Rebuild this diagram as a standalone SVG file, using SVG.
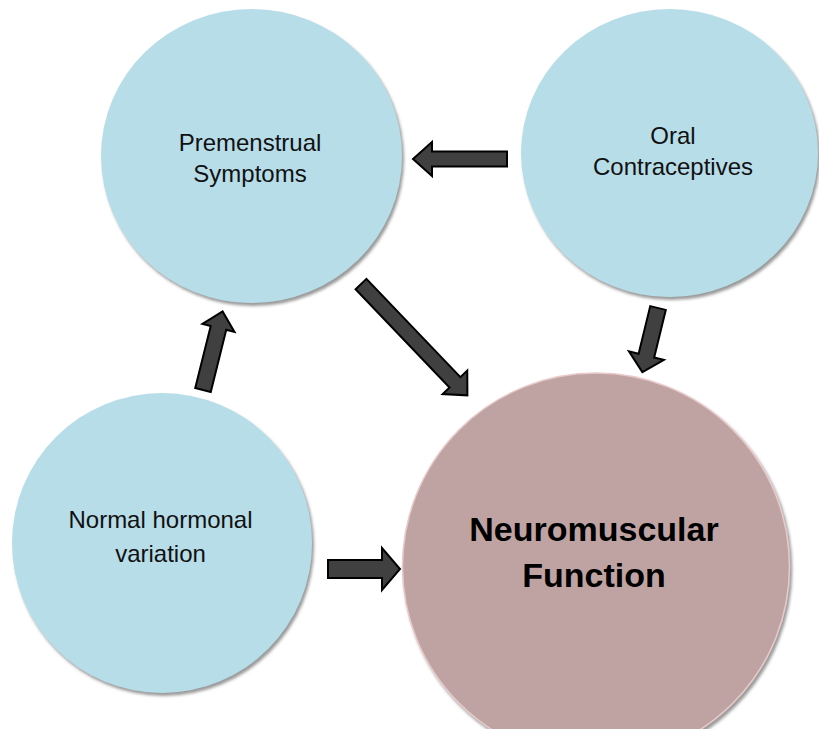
<svg xmlns="http://www.w3.org/2000/svg" width="819" height="729" viewBox="0 0 819 729">
<defs>
<filter id="sh" x="-10%" y="-10%" width="125%" height="125%">
<feDropShadow dx="2" dy="3" stdDeviation="1.5" flood-color="#808080" flood-opacity="0.8"/>
</filter>
<style>
.blue{fill:#B7DDE8;filter:url(#sh);}
.main{fill:#BFA3A3;stroke:#E9CACA;stroke-width:1.5;filter:url(#sh);}
.lbl{font-family:"Liberation Sans",Arial,sans-serif;font-size:24px;fill:#111;text-anchor:middle;}
.big{font-family:"Liberation Sans",Arial,sans-serif;font-size:34px;font-weight:bold;fill:#000;text-anchor:middle;}
.arr{fill:#404040;stroke:#000;stroke-width:2;stroke-linejoin:miter;}
</style>
</defs>
<rect width="819" height="729" fill="#fff"/>
<g id="premenstrual">
<ellipse class="blue" cx="251.5" cy="156" rx="150.5" ry="147"/>
<text class="lbl" x="250" y="151">Premenstrual</text>
<text class="lbl" x="250" y="182">Symptoms</text>
</g>
<g id="oral">
<ellipse class="blue" cx="669.5" cy="153" rx="148.5" ry="144"/>
<text class="lbl" x="673" y="144">Oral</text>
<text class="lbl" x="673" y="175">Contraceptives</text>
</g>
<g id="normal">
<ellipse class="blue" cx="162" cy="543" rx="150" ry="150"/>
<text class="lbl" x="160.5" y="528">Normal hormonal</text>
<text class="lbl" x="160.5" y="562">variation</text>
</g>
<g id="neuromuscular">
<ellipse class="main" cx="596" cy="566.5" rx="193.5" ry="193.5"/>
<text class="big" x="594" y="541">Neuromuscular</text>
<text class="big" x="594" y="587">Function</text>
</g>
<g id="connectors">
<polygon class="arr" transform="translate(507,159) rotate(180)" points="0,-7.5 75,-7.5 75,-17 94,0 75,17 75,7.5 0,7.5"/>
<polygon class="arr" transform="translate(361,284) rotate(46.3)" points="0,-7.5 136,-7.5 136,-17 154,0 136,17 136,7.5 0,7.5"/>
<polygon class="arr" transform="translate(658,308) rotate(103.7)" points="0,-8 49,-8 49,-18 66,0 49,18 49,8 0,8"/>
<polygon class="arr" transform="translate(203,390) rotate(-76)" points="0,-8 64,-8 64,-16.5 81,0 64,16.5 64,8 0,8"/>
<polygon class="arr" transform="translate(328,569) rotate(0)" points="0,-9 54,-9 54,-21 72,0 54,21 54,9 0,9"/>
</g>
</svg>
